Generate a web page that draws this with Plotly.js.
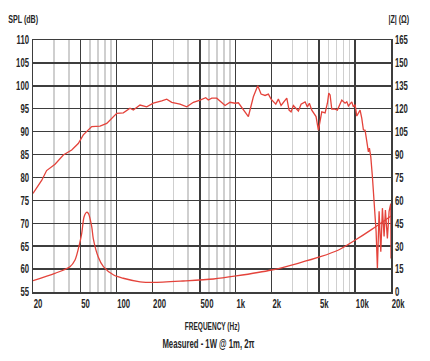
<!DOCTYPE html>
<html><head><meta charset="utf-8">
<script src="https://cdn.plot.ly/plotly-3.0.1.min.js"></script>
<style>html,body{margin:0;padding:0;background:#fff}#chart{width:430px;height:361px}</style>
</head><body><div id="chart"></div>
<script>
// SPL response (dB) vs frequency (Hz)
const splFreq = [20, 23.7, 26, 30.6, 35.9, 42.2, 47.9, 52.8, 62.1, 72.9, 83, 91.3, 100.6, 114.3, 130, 138.6,
  157.7, 179.5, 203.9, 239.8, 264, 290.8, 341, 388.6, 441.4, 502, 560.5, 589, 629.6, 693, 738.8, 813.6, 896,
  986.8, 1052, 1158, 1276, 1405, 1529, 1630, 1761, 1877, 1977, 2165, 2276, 2398, 2677, 2798, 2908, 3040, 3184,
  3348, 3528, 3688, 3811, 3983, 4140, 4337, 4710, 4925, 5090, 5260, 5608, 5862, 6022, 6175, 6378, 6800, 7108,
  7490, 7738, 8248, 8524, 8790, 9084, 9386, 9680, 10000, 10336, 10660, 11016, 11382, 11740, 12132, 12536, 12930,
  13184, 13542, 13966, 14518, 14714, 15002, 15384, 15896, 16426, 16944, 17504, 17952, 18656, 19278, 19920, 20000];
const splDb = [76.5, 79.4, 81.5, 82.9, 84.9, 86.0, 87.4, 89.3, 91.1, 91.2, 91.8, 92.9, 94.0, 94.1, 95.1, 94.7,
  95.8, 95.4, 96.2, 96.7, 97.1, 96.4, 96.0, 95.4, 96.4, 96.9, 97.4, 96.9, 97.3, 97.3, 96.7, 95.7, 96.4,
  96.2, 96.3, 94.7, 93.3, 97.6, 100.0, 98.2, 97.9, 98.2, 97.1, 96.0, 97.1, 95.7, 97.3, 94.7, 94.3, 95.7, 95.1,
  94.5, 96.0, 96.2, 96.5, 95.4, 96.2, 94.7, 93.3, 90.3, 92.2, 94.3, 94.1, 96.2, 98.4, 98.0, 94.9, 94.9, 94.7,
  96.3, 96.9, 96.2, 96.5, 95.6, 96.2, 96.5, 95.4, 95.9, 93.4, 94.1, 94.7, 92.9, 90.4, 90.3, 88.2, 85.6,
  86.4, 84.5, 80.2, 73.0, 71.2, 68.2, 60.2, 72.6, 63.8, 73.3, 67.1, 72.9, 66.7, 72.6, 74.3, 62.3];
// Impedance |Z| (ohm) vs frequency (Hz)
const impFreq = [20, 30.5, 40.8, 45, 49.2, 51.2, 53.6, 56.2, 58.2, 62.1, 64, 70.3, 77.8, 94.9, 114, 158, 203, 362,
  652, 1008, 1996, 3330, 5130, 7270, 10040, 13800, 20000];
const impOhm = [7.4, 12.2, 16.6, 21, 31.9, 38.4, 49.3, 52.2, 51.5, 42.8, 35, 23.1, 16.6, 11.1, 9.0, 6.7, 6.3, 7.2,
  8.5, 10.5, 14.4, 18.8, 23.1, 27.5, 34, 41, 49.8];
// Axis ticks
const xTickVals = [20, 50, 100, 200, 500, 1000, 2000, 5000, 10000, 20000];
const xTickText = ['20', '50', '100', '200', '500', '1k', '2k', '5k', '10k', '20k'];
const xMinorVals = [30, 40, 60, 70, 80, 90, 300, 400, 600, 700, 800, 900, 3000, 4000, 6000, 7000, 8000, 9000];

const RED = '#e4433b';
const FONT = '"Liberation Sans", Arial, sans-serif';
const DARK = '#3d3d3d';
const TXT = '#262626';
const tf = (size) => ({family: FONT, size: size, color: TXT, weight: 'bold'});

const traces = [
  {x: splFreq, y: splDb, type: 'scatter', mode: 'lines', line: {color: RED, width: 1.3}, yaxis: 'y', hoverinfo: 'skip'},
  {x: impFreq, y: impOhm, type: 'scatter', mode: 'lines', line: {color: RED, width: 1.3, shape: 'spline', smoothing: 0.8}, yaxis: 'y2', hoverinfo: 'skip'}
];

const layout = {
  width: 430, height: 361,
  margin: {l: 33, r: 39, t: 40, b: 69},
  paper_bgcolor: '#fff', plot_bgcolor: '#fff',
  showlegend: false,
  font: tf(12),
  xaxis: {
    type: 'log', range: [Math.log10(20), Math.log10(20000)],
    tickmode: 'array', tickvals: xTickVals, ticktext: xTickText,
    ticks: '', showgrid: true, gridcolor: DARK, gridwidth: 1.5,
    minor: {tickmode: 'array', tickvals: xMinorVals, showgrid: true, gridcolor: '#cfcfcf', gridwidth: 1.6, ticks: ''},
    showline: true, linecolor: DARK, linewidth: 1.5, mirror: true,
    ticklabelposition: 'outside right',
    tickfont: tf(12.5),
    zeroline: false
  },
  yaxis: {
    range: [55, 110], dtick: 5, tick0: 55, ticks: '',
    showgrid: true, gridcolor: DARK, gridwidth: 1.5,
    showline: true, linecolor: DARK, linewidth: 1.5, mirror: true,
    tickfont: tf(12.5),
    zeroline: false
  },
  yaxis2: {
    range: [0, 165], dtick: 15, tick0: 0, overlaying: 'y', side: 'right', ticks: '',
    showgrid: false, showline: true, linecolor: DARK, linewidth: 1.5,
    tickfont: tf(12.5),
    zeroline: false
  },
  annotations: [
    {text: 'SPL (dB)', xref: 'paper', yref: 'paper', x: (23.5 - 33) / 358, y: (292 - 19) / 252, xanchor: 'center', yanchor: 'middle', showarrow: false, font: tf(11.5)},
    {text: '|Z| (Ω)', xref: 'paper', yref: 'paper', x: (399 - 33) / 358, y: (292 - 19) / 252, xanchor: 'center', yanchor: 'middle', showarrow: false, font: tf(11.5)},
    {text: 'FREQUENCY (Hz)', xref: 'paper', yref: 'paper', x: (212 - 33) / 358, y: (292 - 326) / 252, xanchor: 'center', yanchor: 'middle', showarrow: false, font: tf(10.5)},
    {text: 'Measured - 1W @ 1m, 2π', xref: 'paper', yref: 'paper', x: (208 - 33) / 358, y: (292 - 344) / 252, xanchor: 'center', yanchor: 'middle', showarrow: false, font: tf(12.5)}
  ]
};

// Condense all text horizontally (reference uses a condensed typeface)
function condense(gd, s) {
  gd.querySelectorAll('text').forEach(t => {
    const x = parseFloat(t.getAttribute('x')) || 0;
    const y = parseFloat(t.getAttribute('y')) || 0;
    const tr = t.getAttribute('transform') || '';
    t.setAttribute('transform', tr + ` translate(${x},${y}) scale(${s},1) translate(${-x},${-y})`);
  });
}

Plotly.newPlot('chart', traces, layout, {staticPlot: true, displayModeBar: false}).then(gd => condense(gd, 0.62));
</script>
</body></html>
